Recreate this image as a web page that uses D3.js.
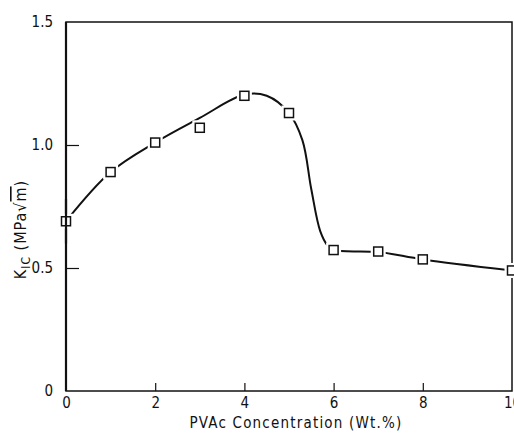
<!DOCTYPE html>
<html>
<head>
<meta charset="utf-8">
<script src="https://cdn.jsdelivr.net/npm/d3@7"></script>
<style>
  body { margin: 0; background: #fff; }
  text { font-family: "DejaVu Sans Condensed", "DejaVu Sans", sans-serif; fill: #111; }
</style>
</head>
<body>
<div id="plot"></div>
<script>
// measured points (PVAc wt.% vs K_IC)
var conc = [0, 1, 2, 3, 4, 5, 6, 7, 8, 10];
var kic = [0.69, 0.89, 1.01, 1.07, 1.20, 1.13, 0.573, 0.567, 0.535, 0.49];

// hand-drawn trend curve knots
var curve_x = [0, 1, 2, 3, 4, 4.5, 5, 5.3, 5.5, 5.7, 5.87, 6, 7, 8, 10];
var curve_y = [0.69, 0.89, 1.01, 1.11, 1.205, 1.20, 1.13, 1.02, 0.82, 0.65, 0.59, 0.573, 0.565, 0.535, 0.49];

var x_ticks = [0, 2, 4, 6, 8, 10];
var y_ticks = [0, 0.5, 1.0, 1.5];

const total_width = 514
const total_height = 436
const margin = {left: 66, top: 22, right: 2, bottom: 45}

var width = total_width - margin.left - margin.right;
var height = total_height - margin.top - margin.bottom;

var svg = d3.select("#plot").append("svg").attr("width", total_width).attr("height", total_height)
  .append("g").attr("transform", "translate(" + margin.left + "," + margin.top + ")");

var x = d3.scaleLinear().domain([0, 10]).range([0, width]);
var y = d3.scaleLinear().domain([0, 1.5]).range([height, 0]);

// frame
svg.append("rect").attr("width", width).attr("height", height)
  .style("fill", "none").style("stroke", "#111").style("stroke-width", 1.5);
svg.append("line").attr("x1", 0).attr("x2", 0).attr("y1", 0).attr("y2", height)
  .style("stroke", "#111").style("stroke-width", 2.2);

// axes with inward ticks
var xAxis = d3.axisBottom(x).tickValues(x_ticks).tickSize(-8).tickPadding(6).tickFormat(d3.format("d"));
var gx = svg.append("g").attr("transform", "translate(0," + height + ")").call(xAxis);
gx.select(".domain").remove();
gx.selectAll(".tick line").filter(function(d) {return d == 0 || d == 10}).remove();
gx.selectAll("text").style("font-size", "15px");

var yAxis = d3.axisLeft(y).tickValues(y_ticks).tickSize(-13).tickPadding(13)
  .tickFormat(function(d) {return d == 0 ? "0" : d3.format(".1f")(d)});
var gy = svg.append("g").call(yAxis);
gy.select(".domain").remove();
gy.selectAll(".tick line").filter(function(d) {return d == 0 || d == 1.5}).remove();
gy.selectAll("text").style("font-size", "15px");
svg.selectAll(".tick line").style("stroke", "#111").style("stroke-width", 1.2);

// trend curve
var pts = curve_x.map(function(d, i) {return [d, curve_y[i]]});
svg.append("path").datum(pts)
  .attr("d", d3.line().x(function(d) {return x(d[0])}).y(function(d) {return y(d[1])}).curve(d3.curveCatmullRom.alpha(0.5)))
  .style("fill", "none").style("stroke", "#111").style("stroke-width", 2);

// markers (white halo breaks the line around each square)
var s = 9;
svg.selectAll(".halo").data(conc).enter().append("rect")
  .attr("x", function(d) {return x(d) - s/2 - 3}).attr("y", function(d, i) {return y(kic[i]) - s/2 - 3})
  .attr("width", s + 6).attr("height", s + 6).style("fill", "#fff");
svg.selectAll(".pt").data(conc).enter().append("rect")
  .attr("x", function(d) {return x(d) - s/2}).attr("y", function(d, i) {return y(kic[i]) - s/2})
  .attr("width", s).attr("height", s)
  .style("fill", "#fff").style("stroke", "#111").style("stroke-width", 1.5);
// keep left axis line drawn over halo
svg.append("line").attr("x1", 0).attr("x2", 0).attr("y1", y(0.6)).attr("y2", y(0.78))
  .style("stroke", "#111").style("stroke-width", 2.2);
svg.selectAll(".pt").raise();

// axis titles
svg.append("text").attr("x", width / 2 + 7).attr("y", height + 37)
  .attr("text-anchor", "middle").style("font-size", "15px").style("letter-spacing", "1.2px")
  .text("PVAc Concentration (Wt.%)");

var yt = svg.append("text").attr("transform", "translate(" + (-40) + "," + (height / 2 + 23) + ") rotate(-90)")
  .attr("text-anchor", "middle").style("font-size", "16px").style("letter-spacing", "1px");
yt.append("tspan").text("K");
yt.append("tspan").attr("dy", 4).style("font-size", "12px").text("IC");
yt.append("tspan").attr("dy", -4).text(" (MPa");
yt.append("tspan").text("\u221A");
yt.append("tspan").style("text-decoration", "overline").text("m");
yt.append("tspan").text(")");
</script>
</body>
</html>
